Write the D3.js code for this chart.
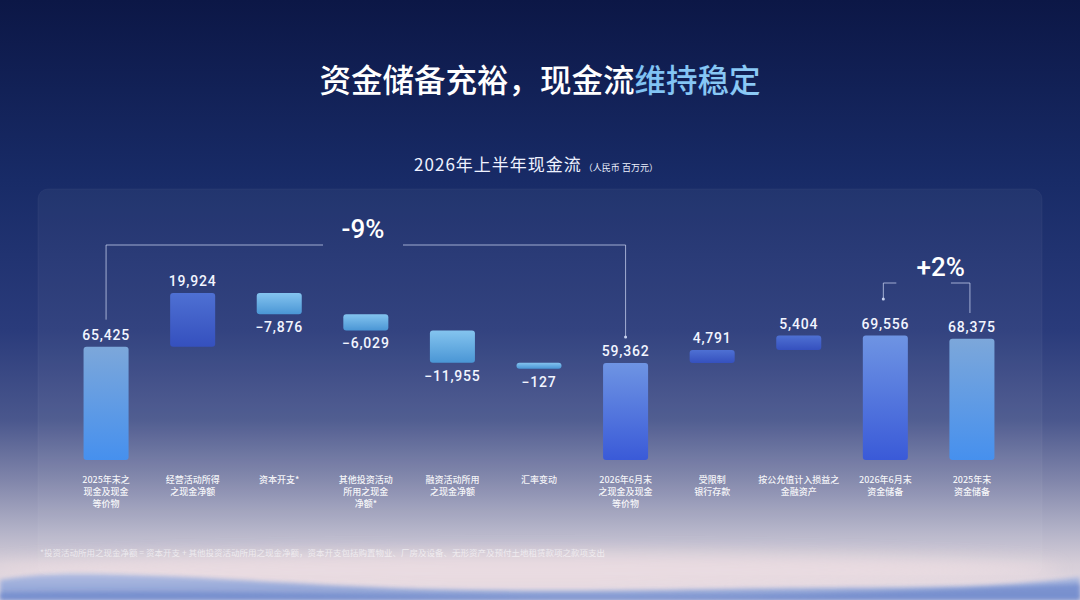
<!DOCTYPE html>
<html>
<head>
<meta charset="utf-8">
<script src="https://cdn.jsdelivr.net/npm/d3@7"></script>
<style>
  html, body { margin: 0; padding: 0; background: #0d1847; }
  svg { display: block; }
</style>
</head>
<body>
<div id="chart"></div>
<script>
// chart data
const categories = [
  "2025年末之\n现金及现金\n等价物",
  "经营活动所得\n之现金净额",
  "资本开支*",
  "其他投资活动\n所用之现金\n净额*",
  "融资活动所用\n之现金净额",
  "汇率变动",
  "2026年6月末\n之现金及现金\n等价物",
  "受限制\n银行存款",
  "按公允值计入损益之\n金融资产",
  "2026年6月末\n资金储备",
  "2025年末\n资金储备",
];
const values = [65425, 19924, -7876, -6029, -11955, -127, 59362, 4791, 5404, 69556, 68375];
// start / up / down / sub : how each bar is built and coloured
const kinds = ["start", "up", "down", "down", "down", "down", "sub", "up", "up", "sub", "start"];
const changeLabels = ["-9%", "+2%"];

const titleMain = "资金储备充裕，现金流";
const titleAccent = "维持稳定";
const subtitle = "2026年上半年现金流";
const unitNote = "（人民币 百万元）";
const footnote = "*投资活动所用之现金净额 = 资本开支 + 其他投资活动所用之现金净额，资本开支包括购置物业、厂房及设备、无形资产及预付土地租赁款项之款项支出";

// 1. dimensions
const width = 1080;
const height = 600;
const plot = { left: 42, right: 1036, top: 293, bottom: 460 };
const cjk = "'Noto Sans CJK SC', 'Noto Sans', sans-serif";
const num = "Roboto, 'DejaVu Sans', sans-serif";

// 2. waterfall steps
let running = 0;
const steps = values.map((v, i) => {
  let from, to;
  if (kinds[i] === "start" || kinds[i] === "sub") {
    from = null;
    to = v;
    running = v;
  } else {
    from = running;
    to = running + v;
    running = to;
  }
  return { i, value: v, kind: kinds[i], from, to };
});

// 3. canvas
const svg = d3.select("#chart").append("svg")
  .attr("width", width)
  .attr("height", height);

const defs = svg.append("defs");

const bgGrad = defs.append("linearGradient").attr("id", "bg")
  .attr("x1", 0).attr("y1", 0).attr("x2", 0).attr("y2", 1);
[
  [0, "#0c1746"], [0.3, "#182b67"], [0.55, "#2a3b7b"], [0.7, "#4a578d"],
  [0.8, "#8085aa"], [0.88, "#b0b0c6"], [0.94, "#d6ced8"], [1, "#e6dce4"],
].forEach(([o, c]) => bgGrad.append("stop").attr("offset", o).attr("stop-color", c));

const barColours = {
  start: ["#7ca7da", "#4690ee"],
  sub: ["#6e94e3", "#3a5ad8"],
  up: ["#4e70d3", "#3550be"],
  down: ["#84c4ef", "#4a96d5"],
};
Object.entries(barColours).forEach(([k, [c0, c1]]) => {
  const g = defs.append("linearGradient").attr("id", "bar-" + k)
    .attr("x1", 0).attr("y1", 0).attr("x2", 0).attr("y2", 1);
  g.append("stop").attr("offset", 0).attr("stop-color", c0);
  g.append("stop").attr("offset", 1).attr("stop-color", c1);
});

const accent = defs.append("linearGradient").attr("id", "accent")
  .attr("x1", 0).attr("y1", 0).attr("x2", 1).attr("y2", 0);
accent.append("stop").attr("offset", 0).attr("stop-color", "#5fb0ee");
accent.append("stop").attr("offset", 1).attr("stop-color", "#8ccaf5");

const waveGrad = defs.append("linearGradient").attr("id", "wave")
  .attr("x1", 0).attr("y1", 0).attr("x2", 0).attr("y2", 1);
waveGrad.append("stop").attr("offset", 0).attr("stop-color", "#aebbe2");
waveGrad.append("stop").attr("offset", 1).attr("stop-color", "#8098d2");

defs.append("filter").attr("id", "blur")
  .attr("x", "-20%").attr("y", "-50%").attr("width", "140%").attr("height", "200%")
  .append("feGaussianBlur").attr("stdDeviation", 8);
defs.append("filter").attr("id", "soft")
  .attr("x", "-10%").attr("y", "-50%").attr("width", "120%").attr("height", "200%")
  .append("feGaussianBlur").attr("stdDeviation", 2);

svg.append("rect").attr("width", width).attr("height", height).attr("fill", "url(#bg)");

// soft glow and waves along the bottom
svg.append("ellipse")
  .attr("cx", 520).attr("cy", 570).attr("rx", 540).attr("ry", 18)
  .attr("fill", "#f3e1e4").attr("opacity", 0.6).attr("filter", "url(#blur)");
svg.append("path")
  .attr("d", "M0,600 L0,580 C30,575 60,573 100,574 C200,576 300,585 420,589 C560,593 700,589 820,588 C920,587 1000,588 1080,577 L1080,600 Z")
  .attr("fill", "url(#wave)").attr("opacity", 0.95).attr("filter", "url(#soft)");
svg.append("path")
  .attr("d", "M0,600 L0,593 C200,589 400,597 600,597 C800,597 950,590 1080,584 L1080,600 Z")
  .attr("fill", "#6f89cc").attr("opacity", 0.7).attr("filter", "url(#soft)");

// panel
svg.append("rect")
  .attr("x", 38).attr("y", 189).attr("width", 1004).attr("height", 386).attr("rx", 10)
  .attr("fill", "#ffffff").attr("fill-opacity", 0.045)
  .attr("stroke", "#ffffff").attr("stroke-opacity", 0.04);

// 4. titles
const title = svg.append("text")
  .attr("x", width / 2).attr("y", 92)
  .attr("text-anchor", "middle")
  .attr("font-family", cjk).attr("font-size", 31.5).attr("font-weight", 500)
  .attr("fill", "#ffffff");
title.append("tspan").text(titleMain);
title.append("tspan").attr("fill", "url(#accent)").text(titleAccent);

const sub = svg.append("text")
  .attr("x", 536).attr("y", 171)
  .attr("text-anchor", "middle")
  .attr("font-family", cjk).attr("fill", "#eef2ff");
sub.append("tspan").attr("font-size", 17).attr("letter-spacing", 1).text(subtitle);
sub.append("tspan").attr("font-size", 9).attr("dx", 2).text(unitNote);

// 5. scales
const xScale = d3.scaleBand()
  .domain(categories.map((d, i) => i))
  .range([plot.left, plot.right])
  .paddingInner(0.48)
  .paddingOuter(0.48);

const yMax = d3.max(steps, (d) => Math.max(d.to, d.from ?? 0));
const yScale = d3.scaleLinear()
  .domain([23350, yMax])
  .range([plot.bottom, plot.top]);

const cx = (i) => xScale(i) + xScale.bandwidth() / 2;
const minH = 6;

// 6. bars
const bars = svg.append("g").attr("class", "bars");
bars.selectAll("rect")
  .data(steps)
  .join("rect")
  .attr("x", (d) => xScale(d.i))
  .attr("width", xScale.bandwidth())
  .attr("y", (d) => {
    if (d.from === null) return yScale(d.to);
    return yScale(Math.max(d.from, d.to));
  })
  .attr("height", (d) => {
    if (d.from === null) return yScale.range()[0] - yScale(d.to);
    return Math.max(minH, Math.abs(yScale(d.from) - yScale(d.to)));
  })
  .attr("rx", 3)
  .attr("fill", (d) => `url(#bar-${d.kind})`);

// value labels: above for positive, below for negative
const fmt = d3.format(",");
bars.selectAll("text")
  .data(steps)
  .join("text")
  .attr("x", (d) => cx(d.i))
  .attr("y", (d) => {
    if (d.value < 0) {
      const bottom = yScale(d.from) + Math.max(minH, yScale(d.to) - yScale(d.from));
      return bottom + 18;
    }
    return yScale(d.to) - 7;
  })
  .attr("text-anchor", "middle")
  .attr("font-family", num).attr("font-size", 14).attr("font-weight", 500)
  .attr("letter-spacing", 0.8)
  .attr("fill", "#f2f5ff")
  .text((d) => fmt(d.value));

// category labels
const catG = svg.append("g").attr("class", "categories");
categories.forEach((c, i) => {
  const t = catG.append("text")
    .attr("x", cx(i)).attr("y", 483)
    .attr("text-anchor", "middle")
    .attr("font-family", cjk).attr("font-size", 9).attr("font-weight", 500)
    .attr("fill", "#ffffff").attr("fill-opacity", 0.92);
  c.split("\n").forEach((line, k) => {
    t.append("tspan").attr("x", cx(i)).attr("dy", k === 0 ? 0 : 12).text(line);
  });
});

// 7. change brackets
const lineStyle = (sel) => sel
  .attr("fill", "none")
  .attr("stroke", "#c9d3f0").attr("stroke-opacity", 0.75).attr("stroke-width", 1);
const brackets = svg.append("g").attr("class", "brackets");

// -9% : start cash vs end cash
const b1L = cx(0), b1R = cx(6), b1Y = 245, b1Mid = 363;
brackets.append("path")
  .attr("d", `M${b1L},${yScale(values[0]) - 27} V${b1Y} H${b1Mid - 40}`)
  .call(lineStyle);
brackets.append("path")
  .attr("d", `M${b1Mid + 40},${b1Y} H${b1R} V${yScale(values[6]) - 26}`)
  .call(lineStyle);
brackets.append("circle")
  .attr("cx", b1R).attr("cy", yScale(values[6]) - 26).attr("r", 1.5).attr("fill", "#c9d3f0");
brackets.append("text")
  .attr("x", b1Mid).attr("y", 238)
  .attr("text-anchor", "middle")
  .attr("font-family", num).attr("font-size", 26).attr("font-weight", 500)
  .attr("fill", "#ffffff")
  .text(changeLabels[0]);

// +2% : reserves now vs year end
const b2L = cx(9), b2R = cx(10), b2Y = 283, b2Mid = (b2L + b2R) / 2;
brackets.append("path")
  .attr("d", `M${b2L + 11},${b2Y} H${b2L - 2} V${b2Y + 16}`)
  .call(lineStyle);
brackets.append("circle")
  .attr("cx", b2L - 2).attr("cy", b2Y + 16).attr("r", 1.5).attr("fill", "#c9d3f0");
brackets.append("path")
  .attr("d", `M${b2R - 21},${b2Y} H${b2R - 2} V${b2Y + 30}`)
  .call(lineStyle);
brackets.append("text")
  .attr("x", b2Mid + 12).attr("y", 276)
  .attr("text-anchor", "middle")
  .attr("font-family", num).attr("font-size", 26).attr("font-weight", 500)
  .attr("fill", "#ffffff")
  .text(changeLabels[1]);

// 8. footnote
svg.append("text")
  .attr("x", 40).attr("y", 556)
  .attr("font-family", cjk).attr("font-size", 8.5)
  .attr("fill", "#ffffff").attr("fill-opacity", 0.6)
  .text(footnote);
</script>
</body>
</html>
